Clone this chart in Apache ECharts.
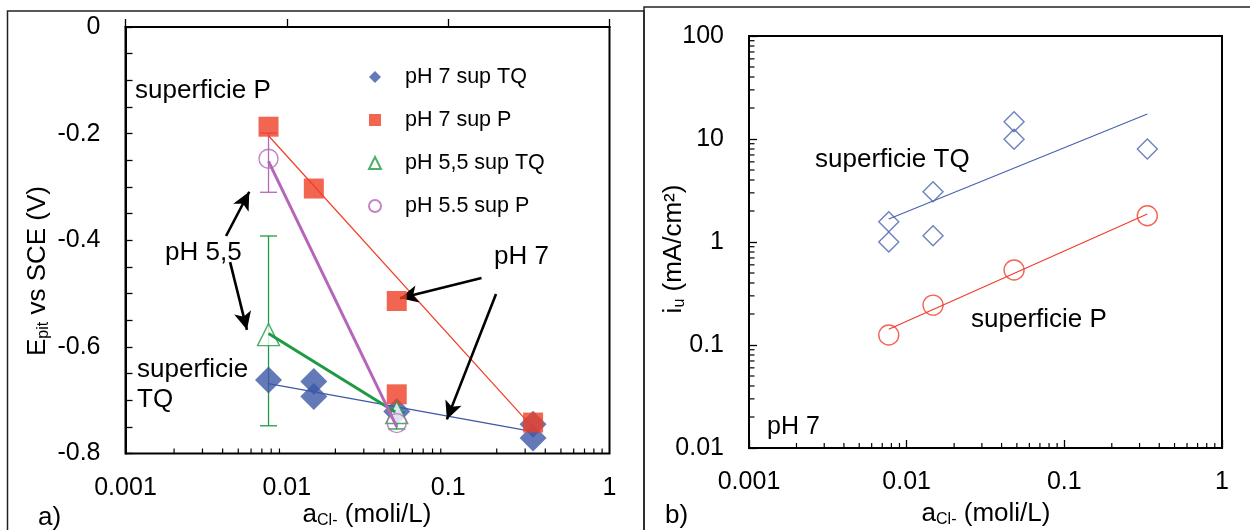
<!DOCTYPE html>
<html><head><meta charset="utf-8">
<script src="https://cdn.jsdelivr.net/npm/echarts@6/dist/echarts.min.js"></script>
<style>html,body{margin:0;padding:0;background:#fff}#c{width:1250px;height:530px}</style>
</head><body><div id="c"></div>
<script>
const FONT = '"Liberation Sans", Arial, Helvetica, sans-serif';

// ---------- tick labels ----------
const xTickValues = [0.001, 0.01, 0.1, 1];
const xTickLabels = ['0.001', '0.01', '0.1', '1'];
const xMinorTicks = [0.002,0.003,0.004,0.005,0.006,0.007,0.008,0.009,
                     0.02,0.03,0.04,0.05,0.06,0.07,0.08,0.09,
                     0.2,0.3,0.4,0.5,0.6,0.7,0.8,0.9];
const yaTickValues = [0, -0.2, -0.4, -0.6, -0.8];
const yaTickLabels = ['0', '-0.2', '-0.4', '-0.6', '-0.8'];
const ybTickValues = [0.01, 0.1, 1, 10, 100];
const ybTickLabels = ['0.01', '0.1', '1', '10', '100'];
const ybMinorTicks = [0.02,0.03,0.04,0.05,0.06,0.07,0.08,0.09,
                      0.2,0.3,0.4,0.5,0.6,0.7,0.8,0.9,
                      2,3,4,5,6,7,8,9, 20,30,40,50,60,70,80,90];

// ---------- panel a) data ----------
const legendNames = ['pH 7 sup TQ', 'pH 7 sup P', 'pH 5,5 sup TQ', 'pH 5.5 sup P'];
const tq7X = [0.0077, 0.0147, 0.0147, 0.048, 0.336, 0.336];
const tq7Y = [-0.662, -0.665, -0.693, -0.721, -0.745, -0.771];
const p7X  = [0.0077, 0.0147, 0.048, 0.048, 0.336];
const p7Y  = [-0.187, -0.303, -0.514, -0.689, -0.742];
const tq55X = [0.0077, 0.048];
const tq55Y = [-0.577, -0.723];
const p55X = [0.0077, 0.048];
const p55Y = [-0.247, -0.743];
// error bars
const tq55ErrX  = [0.0077, 0.048];
const tq55ErrLo = [-0.748, -0.754];
const tq55ErrHi = [-0.392, -0.723];
const p55ErrX  = [0.0077];
const p55ErrLo = [-0.310];
const p55ErrHi = [-0.199];
// trend lines
const tq7LineX = [0.0077, 0.336];  const tq7LineY = [-0.669, -0.759];
const p7LineX  = [0.0077, 0.336];  const p7LineY  = [-0.204, -0.752];
const tq55LineX = [0.0077, 0.047]; const tq55LineY = [-0.575, -0.722];
const p55LineX = [0.0077, 0.048];  const p55LineY = [-0.252, -0.750];
// annotation arrows (data coordinates)
const arrowFrom = [[0.00420, -0.392], [0.00445, -0.441], [0.161, -0.471], [0.198, -0.501]];
const arrowTo   = [[0.00585, -0.309], [0.00566, -0.568], [0.0503, -0.509], [0.0982, -0.736]];

// ---------- panel b) data ----------
const iuTQX = [0.0077, 0.0077, 0.0147, 0.0147, 0.048, 0.048, 0.336];
const iuTQY = [1.57, 1.0, 3.08, 1.15, 14.7, 9.93, 8.0];
const iuPX  = [0.0077, 0.0147, 0.048, 0.336];
const iuPY  = [0.125, 0.244, 0.535, 1.80];
const iuTQLineX = [0.0077, 0.336]; const iuTQLineY = [1.67, 17.5];
const iuPLineX  = [0.0077, 0.336]; const iuPLineY  = [0.142, 1.87];

// ---------- colours ----------
const BLUE = '#3c58a6', RED = '#ef3e25', GREEN = '#1f9a44', PURPLE = '#b566ba';
const BLUE2 = '#4863ad', RED2 = '#ee3f2c';

const zip = (a, b) => a.map((v, i) => [v, b[i]]);
const zip3 = (a, b, c) => a.map((v, i) => [v, b[i], c[i]]);
const labelFrom = (vals, labs) => v => {
  for (let i = 0; i < vals.length; i++) {
    if (vals[i] === 0 ? Math.abs(v) < 1e-9 : Math.abs(v / vals[i] - 1) < 1e-6) return labs[i];
  }
  return '';
};

function xAxisCfg(gi) {
  return {
    type: 'log', logBase: 10, gridIndex: gi, min: 0.001, max: 1,
    axisLine: { lineStyle: { color: '#000', width: 2 } },
    axisTick: { inside: true, length: 8, lineStyle: { color: '#000', width: 1.3 } },
    axisLabel: { color: '#000', fontFamily: FONT, fontSize: 25, margin: 22,
      formatter: labelFrom(xTickValues, xTickLabels) },
    splitLine: { show: false }, minorTick: { show: false }
  };
}

function minorTickSeries(xi, yi, data, dir, len) {
  return {
    type: 'custom', xAxisIndex: xi, yAxisIndex: yi, silent: true, clip: false, z: 10,
    data: data,
    renderItem: (params, api) => {
      const p = api.coord([api.value(0), api.value(1)]);
      const shape = dir === 'x'
        ? { x1: p[0], y1: p[1], x2: p[0], y2: p[1] - len }
        : { x1: p[0], y1: p[1], x2: p[0] + len, y2: p[1] };
      return { type: 'line', shape: shape, style: { stroke: '#000', lineWidth: 1.2 } };
    }
  };
}

function errorBarSeries(data, color) {
  return {
    type: 'custom', xAxisIndex: 0, yAxisIndex: 0, silent: true, z: 2,
    encode: { x: 0, y: [1, 2] }, data: data,
    renderItem: (params, api) => {
      const x = api.value(0);
      const a = api.coord([x, api.value(2)]);
      const b = api.coord([x, api.value(1)]);
      const w = 8.5, st = { stroke: color, lineWidth: 1.3 };
      return { type: 'group', children: [
        { type: 'line', shape: { x1: a[0], y1: a[1], x2: b[0], y2: b[1] }, style: st },
        { type: 'line', shape: { x1: a[0] - w, y1: a[1], x2: a[0] + w, y2: a[1] }, style: st },
        { type: 'line', shape: { x1: b[0] - w, y1: b[1], x2: b[0] + w, y2: b[1] }, style: st }
      ] };
    }
  };
}

function lineSeries(name, xi, data, color, width, z) {
  return { name: name, type: 'line', xAxisIndex: xi, yAxisIndex: xi, data: data,
    symbol: 'none', showSymbol: false, silent: true, z: z,
    lineStyle: { color: color, width: width } };
}

const txt = (x, y, text, size, extra) => Object.assign({
  type: 'text', x: x, y: y, z: 100, silent: true,
  style: { text: text, fill: '#000', fontFamily: FONT, fontSize: size, align: 'left', verticalAlign: 'middle' }
}, extra || {});

const subRich = { sub: { fontFamily: FONT, fontSize: 16, fill: '#000', padding: [12, 0, 0, 0] } };

const chart = echarts.init(document.getElementById('c'), null, { renderer: 'canvas' });
chart.setOption({
  animation: false,
  backgroundColor: '#fff',
  grid: [
    { left: 125.5, top: 27, width: 484, height: 426.5, show: true, borderColor: '#000', borderWidth: 2, backgroundColor: 'transparent' },
    { left: 749, top: 36, width: 473, height: 412, show: true, borderColor: '#000', borderWidth: 2, backgroundColor: 'transparent' }
  ],
  xAxis: [xAxisCfg(0), xAxisCfg(1)],
  yAxis: [
    { type: 'value', gridIndex: 0, min: -0.8, max: 0, interval: 0.05,
      axisLine: { lineStyle: { color: '#000', width: 2 } },
      axisTick: { inside: true, length: 7, lineStyle: { color: '#000', width: 1.3 } },
      axisLabel: { color: '#000', fontFamily: FONT, fontSize: 25, margin: 25,
        formatter: labelFrom(yaTickValues, yaTickLabels) },
      splitLine: { show: false } },
    { type: 'log', logBase: 10, gridIndex: 1, min: 0.01, max: 100,
      axisLine: { lineStyle: { color: '#000', width: 2 } },
      axisTick: { inside: true, length: 8, lineStyle: { color: '#000', width: 1.3 } },
      axisLabel: { color: '#000', fontFamily: FONT, fontSize: 25, margin: 25,
        formatter: labelFrom(ybTickValues, ybTickLabels) },
      splitLine: { show: false } }
  ],
  legend: {
    data: legendNames, orient: 'vertical', left: 363, top: 61,
    itemWidth: 12, itemHeight: 12, itemGap: 21, selectedMode: false,
    textStyle: { color: '#000', fontFamily: FONT, fontSize: 21.5, lineHeight: 22, padding: [0, 0, 0, 19] }
  },
  series: [
    minorTickSeries(0, 0, xMinorTicks.map(v => [v, -0.8]), 'x', 5),
    minorTickSeries(1, 1, xMinorTicks.map(v => [v, 0.01]), 'x', 5),
    minorTickSeries(1, 1, ybMinorTicks.map(v => [0.001, v]), 'y', 5.5),
    errorBarSeries(zip3(tq55ErrX, tq55ErrLo, tq55ErrHi), GREEN),
    errorBarSeries(zip3(p55ErrX, p55ErrLo, p55ErrHi), PURPLE),
    Object.assign(lineSeries('tq7 line', 0, zip(tq7LineX, tq7LineY), BLUE, 1.2, 3), {
      markLine: {
        silent: true, symbol: ['none', 'arrow'], symbolSize: [13, 18],
        label: { show: false }, lineStyle: { color: '#000', width: 2.6, type: 'solid' },
        emphasis: { disabled: true },
        data: arrowFrom.map((f, i) => [{ coord: f }, { coord: arrowTo[i] }])
      }
    }),
    lineSeries('p7 line', 0, zip(p7LineX, p7LineY), RED, 1.2, 3),
    { name: legendNames[0], type: 'scatter', xAxisIndex: 0, yAxisIndex: 0, z: 4, silent: true,
      symbol: 'diamond', symbolSize: 27, data: zip(tq7X, tq7Y), itemStyle: { color: BLUE } },
    { name: legendNames[1], type: 'scatter', xAxisIndex: 0, yAxisIndex: 0, z: 5, silent: true,
      symbol: 'rect', symbolSize: 20, data: zip(p7X, p7Y), itemStyle: { color: RED } },
    { name: legendNames[2], type: 'scatter', xAxisIndex: 0, yAxisIndex: 0, z: 6, silent: true,
      symbol: 'triangle', symbolSize: 22, data: zip(tq55X, tq55Y),
      itemStyle: { color: '#fff', borderColor: GREEN, borderWidth: 1.4 } },
    { name: legendNames[3], type: 'scatter', xAxisIndex: 0, yAxisIndex: 0, z: 6, silent: true,
      symbol: 'circle', symbolSize: 19, data: zip(p55X, p55Y),
      itemStyle: { color: 'rgba(255,255,255,0)', borderColor: PURPLE, borderWidth: 1.4 } },
    lineSeries('tq55 line', 0, zip(tq55LineX, tq55LineY), GREEN, 3, 7),
    lineSeries('p55 line', 0, zip(p55LineX, p55LineY), PURPLE, 3, 7),
    // panel b
    lineSeries('iu TQ line', 1, zip(iuTQLineX, iuTQLineY), BLUE2, 1.2, 3),
    lineSeries('iu P line', 1, zip(iuPLineX, iuPLineY), RED2, 1.2, 3),
    { name: 'superficie TQ (b)', type: 'scatter', xAxisIndex: 1, yAxisIndex: 1, z: 4, silent: true,
      symbol: 'diamond', symbolSize: 20, data: zip(iuTQX, iuTQY),
      itemStyle: { color: 'rgba(255,255,255,0)', borderColor: BLUE2, borderWidth: 1.4 } },
    { name: 'superficie P (b)', type: 'scatter', xAxisIndex: 1, yAxisIndex: 1, z: 4, silent: true,
      symbol: 'circle', symbolSize: 20, data: zip(iuPX, iuPY),
      itemStyle: { color: 'rgba(255,255,255,0)', borderColor: RED2, borderWidth: 1.4 } }
  ],
  graphic: [
    { type: 'rect', silent: true, z: 0, shape: { x: 7.5, y: 11, width: 636.5, height: 580 },
      style: { fill: 'none', stroke: '#222', lineWidth: 1.5 } },
    { type: 'rect', silent: true, z: 0, shape: { x: 644, y: 7, width: 640, height: 580 },
      style: { fill: 'none', stroke: '#222', lineWidth: 1.5 } },
    txt(135, 91, 'superficie P', 26),
    txt(165, 253, 'pH 5,5', 26),
    txt(494, 257, 'pH 7', 26),
    txt(137, 370, 'superficie', 26),
    txt(137, 400, 'TQ', 26),
    txt(38, 518, 'a)', 26),
    txt(815, 160, 'superficie TQ', 26),
    txt(971, 320, 'superficie P', 26),
    txt(767, 427, 'pH 7', 25),
    txt(665, 516, 'b)', 26),
    // axis titles
    { type: 'text', x: 367, y: 515, z: 100, silent: true,
      style: { text: 'a{sub|Cl-} (moli/L)', rich: subRich, fill: '#000', fontFamily: FONT, fontSize: 26, align: 'center', verticalAlign: 'middle' } },
    { type: 'text', x: 986, y: 514, z: 100, silent: true,
      style: { text: 'a{sub|Cl-} (moli/L)', rich: subRich, fill: '#000', fontFamily: FONT, fontSize: 26, align: 'center', verticalAlign: 'middle' } },
    { type: 'text', x: 38, y: 271, rotation: Math.PI / 2, z: 100, silent: true,
      style: { text: 'E{sub|pit} vs SCE (V)', rich: subRich, fill: '#000', fontFamily: FONT, fontSize: 26, align: 'center', verticalAlign: 'middle' } },
    { type: 'text', x: 674, y: 249, rotation: Math.PI / 2, z: 100, silent: true,
      style: { text: 'i{sub|u} (mA/cm²)', rich: subRich, fill: '#000', fontFamily: FONT, fontSize: 26, align: 'center', verticalAlign: 'middle' } }
  ]
});
</script></body></html>
